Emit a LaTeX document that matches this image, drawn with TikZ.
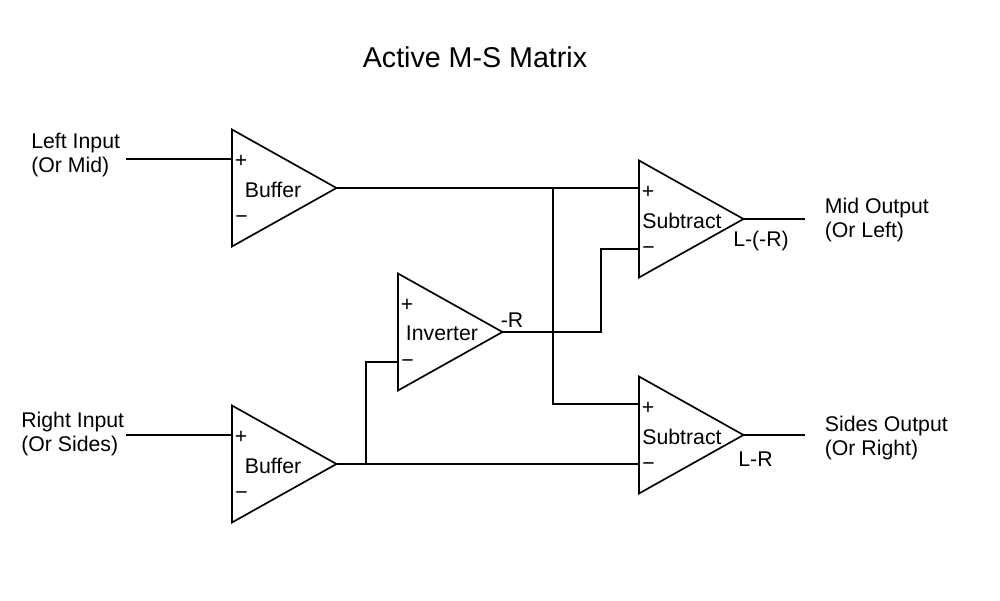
\documentclass[tikz,border=0pt]{standalone}
\usepackage{fontspec}
\setmainfont{Liberation Sans}
\usetikzlibrary{shapes.geometric,calc}
\tikzset{
    ampbox/.style={draw, line width=0.95pt, isosceles triangle, isosceles triangle stretches,
        minimum height=2.09cm, minimum width=2.34cm, inner sep=0pt, outer sep=0pt, anchor=lower side},
    wire/.style={line width=0.95pt, line join=miter},
    lbl/.style={font=\fontsize{12.1}{13.7}\selectfont, inner sep=0pt},
    sidelbl/.style={lbl, align=left, anchor=west},
}
\begin{document}
\begin{tikzpicture}[x=0.02cm, y=-0.02cm]
\useasboundingbox (0,0) rectangle (1000,601);

\node[font=\fontsize{16.3}{18}\selectfont, inner sep=0pt] (title) at (475,57.5) {Active M-S Matrix};

% amplifiers
\foreach \name/\x/\y/\txt/\tx in {bufa/232/188/Buffer/273, bufb/232/464/Buffer/273, inv/398/332/Inverter/442,
        suba/639/219/Subtract/682, subb/639/435/Subtract/682} {
    \node[ampbox] (\name) at (\x,\y) {};
    \node[lbl] (\name-txt) at (\tx,\y+1.5) {\txt};
    \node[lbl] (\name-plus) at (\x+9,\y-27) {+};
    \node[lbl] (\name-minus) at (\x+9.5,\y+32) {\textminus};
    \coordinate (\name-p) at (\x,\y-29);
    \coordinate (\name-m) at (\x,\y+30);
}

% inputs and outputs
\node[sidelbl] (leftin) at (31,155) {Left Input\\(Or Mid)};
\node[sidelbl] (rightin) at (21,434) {Right Input\\(Or Sides)};
\node[sidelbl] (midout) at (824.5,220) {Mid Output\\(Or Left)};
\node[sidelbl] (sideout) at (824.5,438) {Sides Output\\(Or Right)};
\coordinate (leftend) at (126,159);
\coordinate (rightend) at (126,435);
\coordinate (midend) at (805,219);
\coordinate (sideend) at (805,435);

\node[lbl] (rtag) at (512,320.5) {-R};
\node[lbl] (diffa) at (761,240.5) {L-(-R)};
\node[lbl] (diffb) at (755.5,459.5) {L-R};

\coordinate (topjoin) at (553,188);
\coordinate (lowjoin) at (366,464);
\coordinate (subb-top) at (639,404);
\coordinate (invbend) at (601,249);

\draw[wire] (leftend) -- (bufa-p);
\draw[wire] (rightend) -- (bufb-p);
\draw[wire] (bufa.apex) -- (topjoin) -- (topjoin -| suba.lower side);
\draw[wire] (topjoin) |- (subb-top);
\draw[wire] (bufb.apex) -- (bufb.apex -| subb.lower side);
\draw[wire] (lowjoin) |- (inv-m);
\draw[wire] (inv.apex) -| (invbend) -- (suba-m);
\draw[wire] (suba.apex) -- (midend);
\draw[wire] (subb.apex) -- (sideend);
\end{tikzpicture}
\end{document}
